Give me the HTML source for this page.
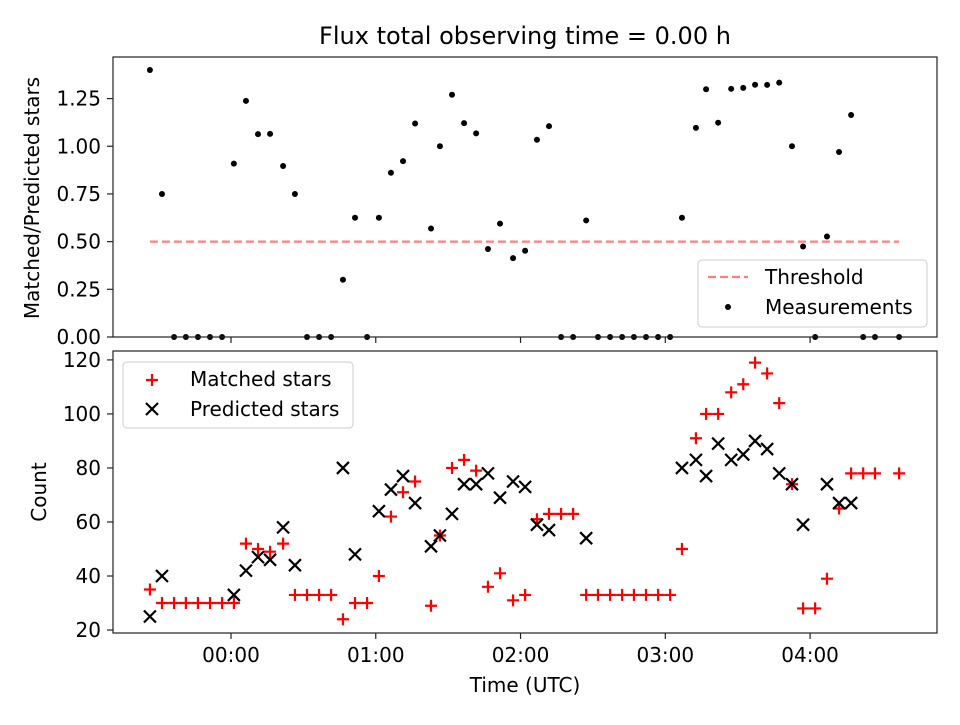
<!DOCTYPE html>
<html><head><meta charset="utf-8"><style>
body{margin:0;background:#fff;}
svg text{font-family:"DejaVu Sans","Liberation Sans",sans-serif;fill:#000;}
</style></head><body>
<svg id="c" width="960" height="720" xmlns="http://www.w3.org/2000/svg"></svg>
<script>
// minutes relative to 00:00 UTC
const times=[-33.6,-28.6,-23.6,-18.7,-13.7,-8.7,-3.7,1.2,6.2,11.2,16.2,21.6,26.5,31.5,36.5,41.5,46.4,51.4,56.4,61.3,66.3,71.3,76.3,82.9,86.6,91.6,96.6,101.6,106.5,111.5,116.9,121.9,126.8,131.8,136.8,141.8,147.2,152.1,157.1,162.1,167.0,172.0,177.0,182.0,186.9,192.7,196.9,201.9,207.3,212.3,217.2,222.2,227.2,232.5,237.1,242.1,247.0,252.0,257.0,262.0,266.9,276.9];
const matched=[35,30,30,30,30,30,30,30,52,50,49,52,33,33,33,33,24,30,30,40,62,71,75,29,55,80,83,79,36,41,31,33,61,63,63,63,33,33,33,33,33,33,33,33,50,91,100,100,108,111,119,115,104,74,28,28,39,65,78,78,78,78];
const predicted=[25,40,null,null,null,null,null,33,42,47,46,58,44,null,null,null,80,48,null,64,72,77,67,51,55,63,74,74,78,69,75,73,59,57,null,null,54,null,null,null,null,null,null,null,80,83,77,89,83,85,90,87,78,74,59,null,74,67,67,null,null,null];
const ratioTicks=[0,0.25,0.5,0.75,1.0,1.25];
const countTicks=[20,40,60,80,100,120];
const xTicks=[0,60,120,180,240];
const xTickLabels=["00:00","01:00","02:00","03:00","04:00"];
const threshold=0.5;

const NS="http://www.w3.org/2000/svg";
const svg=document.getElementById('c');
function el(tag,attrs,parent){const e=document.createElementNS(NS,tag);for(const k in attrs)e.setAttribute(k,attrs[k]);(parent||svg).appendChild(e);return e;}
const L=113,R=937;
const xMin=-48.9,xMax=292.6;
const X=t=>L+(t-xMin)/(xMax-xMin)*(R-L);
const T={top:57,bot:337,min:0,max:1.468};
const B={top:351,bot:633,min:18.9,max:123.3};
const Yt=v=>T.bot-(v-T.min)/(T.max-T.min)*(T.bot-T.top);
const Yb=v=>B.bot-(v-B.min)/(B.max-B.min)*(B.bot-B.top);
const FS='20';

let t=el('text',{x:525,y:44,'text-anchor':'middle','font-size':'24'});t.textContent="Flux total observing time = 0.00 h";


// top axes
let g=el('g',{});
let th=el('line',{x1:X(times[0]),x2:X(times[times.length-1]),y1:Yt(threshold),y2:Yt(threshold),stroke:'#ff7f7f','stroke-width':2.2,'stroke-dasharray':'8,4'},g);

times.forEach((tm,i)=>{const r=predicted[i]?matched[i]/predicted[i]:0;
 const c=el('circle',{cx:X(tm),cy:Yt(r),r:3,fill:'#000'},g);
 });
el('rect',{x:L,y:T.top,width:R-L,height:T.bot-T.top,fill:'none',stroke:'#222','stroke-width':1.2},g);
ratioTicks.forEach(v=>{const y=Yt(v);el('line',{x1:L-6,x2:L,y1:y,y2:y,stroke:'#222','stroke-width':1.2},g);
 const tx=el('text',{x:L-12,y:y+7,'text-anchor':'end','font-size':FS},g);tx.textContent=v.toFixed(2);
 });
xTicks.forEach(v=>{el('line',{x1:X(v),x2:X(v),y1:T.bot,y2:T.bot+6,stroke:'#222','stroke-width':1.2},g);});
let yl=el('text',{transform:`translate(39,${(T.top+T.bot)/2+1}) rotate(-90)`,'text-anchor':'middle','font-size':FS},g);yl.textContent="Matched/Predicted stars";

let lg=el('g',{});
el('rect',{x:698,y:260,width:229,height:67,rx:4,fill:'#fff','fill-opacity':0.8,stroke:'#ccc'},lg);
el('line',{x1:708,x2:748,y1:277,y2:277,stroke:'#ff7f7f','stroke-width':2.2,'stroke-dasharray':'8,4'},lg);
let a=el('text',{x:765,y:284,'font-size':FS},lg);a.textContent="Threshold";
el('circle',{cx:728,cy:307,r:3,fill:'#000'},lg);
a=el('text',{x:765,y:314,'font-size':FS},lg);a.textContent="Measurements";

// bottom axes
g=el('g',{});
times.forEach((tm,i)=>{const x=X(tm),y=Yb(matched[i]);
 const p=el('path',{d:`M${x-6},${y}H${x+6}M${x},${y-6}V${y+6}`,stroke:'#f00','stroke-width':2.2},g);
 });
times.forEach((tm,i)=>{if(predicted[i]==null)return;const x=X(tm),y=Yb(predicted[i]);
 const p=el('path',{d:`M${x-6},${y-6}L${x+6},${y+6}M${x-6},${y+6}L${x+6},${y-6}`,stroke:'#000','stroke-width':2.2},g);
 });
el('rect',{x:L,y:B.top,width:R-L,height:B.bot-B.top,fill:'none',stroke:'#222','stroke-width':1.2},g);
countTicks.forEach(v=>{const y=Yb(v);el('line',{x1:L-6,x2:L,y1:y,y2:y,stroke:'#222','stroke-width':1.2},g);
 const tx=el('text',{x:L-12,y:y+7,'text-anchor':'end','font-size':FS},g);tx.textContent=v;
 });
xTicks.forEach((v,i)=>{el('line',{x1:X(v),x2:X(v),y1:B.bot,y2:B.bot+6,stroke:'#222','stroke-width':1.2},g);
 const tx=el('text',{x:X(v),y:B.bot+29,'text-anchor':'middle','font-size':FS},g);tx.textContent=xTickLabels[i];
 });
yl=el('text',{transform:`translate(46,${(B.top+B.bot)/2}) rotate(-90)`,'text-anchor':'middle','font-size':FS},g);yl.textContent="Count";

let xl=el('text',{x:525,y:692,'text-anchor':'middle','font-size':FS},g);xl.textContent="Time (UTC)";

lg=el('g',{});
el('rect',{x:123,y:362,width:230,height:66,rx:4,fill:'#fff','fill-opacity':0.8,stroke:'#ccc'},lg);
el('path',{d:'M146,380H158M152,374V386',stroke:'#f00','stroke-width':2.2},lg);
a=el('text',{x:190,y:386,'font-size':FS},lg);a.textContent="Matched stars";
el('path',{d:'M146,403L158,415M146,415L158,403',stroke:'#000','stroke-width':2.2},lg);
a=el('text',{x:190,y:416,'font-size':FS},lg);a.textContent="Predicted stars";
</script>
</body></html>
